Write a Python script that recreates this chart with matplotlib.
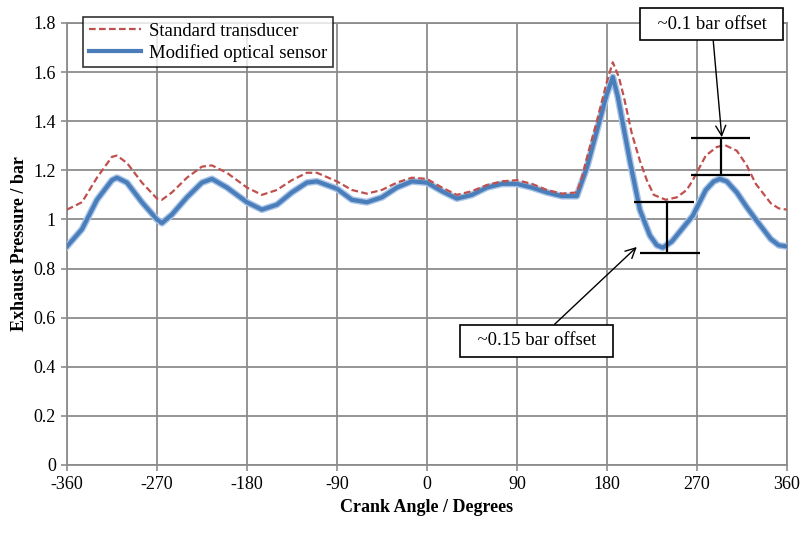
import numpy as np
import matplotlib.pyplot as plt
from matplotlib.ticker import FuncFormatter

plt.rcParams['font.family'] = ['Liberation Serif', 'DejaVu Serif']
plt.rcParams['axes.unicode_minus'] = False

# Crank angle (deg) and exhaust pressure (bar)
angle_std = [-360, -345, -330, -315, -310, -300, -285, -270, -265, -255, -240, -225, -215,
             -200, -180, -165, -150, -135, -120, -110, -90, -75, -60, -45, -30, -15, 0,
             15, 30, 45, 60, 75, 90, 105, 120, 135, 150, 155, 160, 170, 180, 186, 192, 197,
             205, 213, 220, 227, 239, 250, 260, 266, 279, 290, 298, 310, 320, 329, 344, 352, 360]
p_std = [1.04, 1.07, 1.17, 1.255, 1.26, 1.23, 1.15, 1.085, 1.08, 1.11, 1.17, 1.215, 1.22,
         1.19, 1.13, 1.10, 1.12, 1.16, 1.19, 1.19, 1.155, 1.12, 1.105, 1.12, 1.15, 1.17, 1.165,
         1.13, 1.10, 1.115, 1.14, 1.155, 1.16, 1.145, 1.12, 1.105, 1.11, 1.17, 1.25, 1.40, 1.56,
         1.64, 1.58, 1.50, 1.35, 1.24, 1.16, 1.10, 1.08, 1.09, 1.12, 1.16, 1.26, 1.295, 1.303,
         1.28, 1.22, 1.145, 1.066, 1.045, 1.04]

angle_opt = [-360, -345, -330, -315, -310, -300, -285, -270, -265, -255, -240, -225, -215,
             -200, -180, -165, -150, -135, -120, -110, -90, -75, -60, -45, -30, -15, 0,
             15, 30, 45, 60, 75, 90, 105, 120, 135, 150, 160, 170, 180, 186, 191, 197,
             203, 213, 223, 230, 236, 245, 255, 266, 279, 287, 293, 300, 310, 320, 329, 344, 352, 360]
p_opt = [0.89, 0.96, 1.08, 1.16, 1.17, 1.15, 1.07, 1.00, 0.985, 1.02, 1.09, 1.15, 1.165,
         1.13, 1.07, 1.04, 1.06, 1.11, 1.15, 1.155, 1.125, 1.08, 1.07, 1.09, 1.13, 1.155, 1.15,
         1.115, 1.085, 1.10, 1.13, 1.145, 1.145, 1.13, 1.11, 1.095, 1.095, 1.21, 1.36, 1.51,
         1.58, 1.50, 1.37, 1.24, 1.04, 0.935, 0.895, 0.885, 0.91, 0.96, 1.015, 1.12, 1.155,
         1.165, 1.155, 1.11, 1.05, 1.00, 0.92, 0.895, 0.89]

xticks = list(range(-360, 361, 90))
yticks = [0, 0.2, 0.4, 0.6, 0.8, 1.0, 1.2, 1.4, 1.6, 1.8]

fig = plt.figure(figsize=(8.02, 5.41), dpi=100)
ax = fig.add_axes([0.0835, 0.1405, 0.8975, 0.817])

grid_c = '#8c8c8c'
ax.set_axisbelow(True)
ax.grid(True, color=grid_c, linewidth=1.3)

ax.plot(angle_std, p_std, color='#c0504d', linewidth=1.6, linestyle=(0, (3, 1.5)),
        label='Standard transducer', zorder=4)
ax.plot(angle_opt, p_opt, color='#a9c4e6', linewidth=5.0, zorder=3)
ax.plot(angle_opt, p_opt, color='#4a7ebb', linewidth=3.0, label='Modified optical sensor', zorder=3)

ax.set_xlim(-360, 360)
ax.set_ylim(0, 1.8)
ax.set_xticks(xticks)
ax.set_yticks(yticks)
ax.yaxis.set_major_formatter(FuncFormatter(lambda v, p: '%g' % round(v, 1)))
ax.tick_params(labelsize=13, color=grid_c, length=4, width=1.2, pad=4)
for s in ax.spines.values():
    s.set_color(grid_c)
    s.set_linewidth(1.3)

ax.set_xlabel('Crank Angle / Degrees', fontsize=13, fontweight='bold', labelpad=4)
ax.set_ylabel('Exhaust Pressure / bar', fontsize=13, fontweight='bold', labelpad=4)

# offset markers
lw = 1.6
ax.hlines(1.07, 207, 267, color='black', linewidth=lw, zorder=5)
ax.hlines(0.865, 213, 273, color='black', linewidth=lw, zorder=5)
ax.vlines(240, 0.865, 1.07, color='black', linewidth=lw, zorder=5)
ax.hlines(1.33, 264, 323, color='black', linewidth=lw, zorder=5)
ax.hlines(1.18, 264, 323, color='black', linewidth=lw, zorder=5)
ax.vlines(294, 1.18, 1.33, color='black', linewidth=lw, zorder=5)

box = dict(boxstyle='square,pad=0.4', facecolor='white', edgecolor='black', linewidth=1.2)
arrow = dict(arrowstyle='->', color='black', linewidth=1.0, mutation_scale=18, shrinkA=0, shrinkB=0)
ax.annotate('  ~0.1 bar offset  ', xy=(295, 1.335), xytext=(285, 1.795), fontsize=13.5,
            ha='center', va='center', bbox=box, arrowprops=arrow, zorder=6, annotation_clip=False)
ax.annotate('  ~0.15 bar offset  ', xy=(210, 0.888), xytext=(110, 0.505), fontsize=13.5,
            ha='center', va='center', bbox=box, arrowprops=arrow, zorder=6)

leg = ax.legend(loc='upper left', bbox_to_anchor=(0.1035, 0.968), bbox_transform=fig.transFigure,
                fontsize=13.5, frameon=True, fancybox=False, handlelength=2.8,
                borderpad=0.3, labelspacing=0.2, handletextpad=0.4, borderaxespad=0)
leg.get_frame().set_edgecolor('black')
leg.get_frame().set_linewidth(1.2)
leg.set_zorder(7)

fig.savefig('out.png', dpi=100)
